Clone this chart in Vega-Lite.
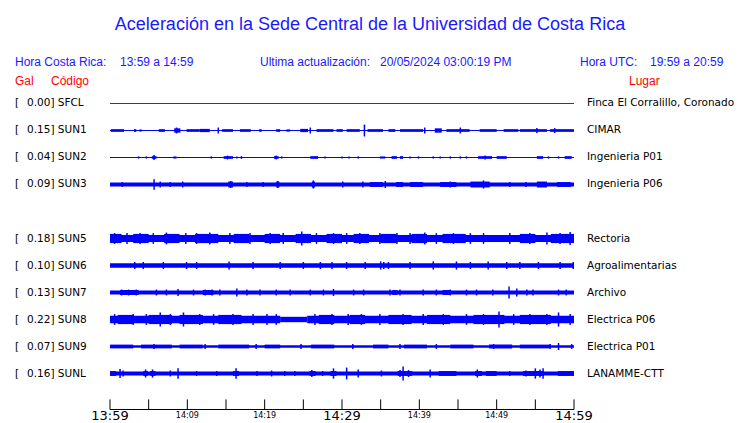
{
 "$schema": "https://vega.github.io/schema/vega-lite/v6.json",
 "width": 740, "height": 423,
 "autosize": {"type": "none"},
 "padding": 0,
 "background": "white",
 "config": {"view": {"stroke": null}, "axis": {"disable": true}},
 "datasets": {
  "bd": [
   {"s":"SUN1","t":0,"u":60,"lo":0.98,"hi":1.02},
   {"s":"SUN2","t":0,"u":60,"lo":1.98,"hi":2.02},
   {"s":"SUN3","t":0,"u":60,"lo":2.93,"hi":3.07},
   {"s":"SUN5","t":0,"u":60,"lo":4.87,"hi":5.13},
   {"s":"SUN6","t":0,"u":60,"lo":5.92,"hi":6.08},
   {"s":"SUN7","t":0,"u":60,"lo":6.93,"hi":7.07},
   {"s":"SUN8","t":0,"u":22,"lo":7.86,"hi":8.14},
   {"s":"SUN8","t":22,"u":25.5,"lo":7.9,"hi":8.1},
   {"s":"SUN8","t":25.5,"u":60,"lo":7.86,"hi":8.14},
   {"s":"SUN9","t":0,"u":60,"lo":8.95,"hi":9.05},
   {"s":"SUNL","t":0,"u":60,"lo":9.93,"hi":10.07},

   {"s":"SUN1","t":0.1,"u":1.8,"lo":0.95,"hi":1.05},
   {"s":"SUN1","t":3.1,"u":3.4,"lo":0.95,"hi":1.05},
   {"s":"SUN1","t":3.8,"u":4.1,"lo":0.96,"hi":1.04},
   {"s":"SUN1","t":6.3,"u":7.1,"lo":0.95,"hi":1.05},
   {"s":"SUN1","t":8.3,"u":9.1,"lo":0.92,"hi":1.08},
   {"s":"SUN1","t":9.9,"u":11.6,"lo":0.95,"hi":1.05},
   {"s":"SUN1","t":11.6,"u":12.9,"lo":0.94,"hi":1.06},
   {"s":"SUN1","t":14.5,"u":15.9,"lo":0.95,"hi":1.05},
   {"s":"SUN1","t":16.8,"u":18.2,"lo":0.95,"hi":1.05},
   {"s":"SUN1","t":19.3,"u":19.6,"lo":0.95,"hi":1.05},
   {"s":"SUN1","t":21.5,"u":22.0,"lo":0.95,"hi":1.05},
   {"s":"SUN1","t":22.8,"u":23.3,"lo":0.96,"hi":1.04},
   {"s":"SUN1","t":24.6,"u":25.6,"lo":0.94,"hi":1.06},
   {"s":"SUN1","t":26.7,"u":28.9,"lo":0.95,"hi":1.05},
   {"s":"SUN1","t":29.3,"u":30.1,"lo":0.95,"hi":1.05},
   {"s":"SUN1","t":30.6,"u":32.3,"lo":0.95,"hi":1.05},
   {"s":"SUN1","t":33.3,"u":35.3,"lo":0.95,"hi":1.05},
   {"s":"SUN1","t":36.0,"u":36.9,"lo":0.95,"hi":1.05},
   {"s":"SUN1","t":37.5,"u":40.5,"lo":0.95,"hi":1.05},
   {"s":"SUN1","t":42.0,"u":42.9,"lo":0.92,"hi":1.08},
   {"s":"SUN1","t":43.5,"u":46.5,"lo":0.95,"hi":1.05},
   {"s":"SUN1","t":47.8,"u":50.0,"lo":0.95,"hi":1.05},
   {"s":"SUN1","t":50.9,"u":52.8,"lo":0.95,"hi":1.05},
   {"s":"SUN1","t":53.0,"u":56.5,"lo":0.95,"hi":1.05},
   {"s":"SUN1","t":56.9,"u":60,"lo":0.95,"hi":1.05},

   {"s":"SUN2","t":3.6,"u":3.8,"lo":1.96,"hi":2.04},
   {"s":"SUN2","t":4.6,"u":4.8,"lo":1.96,"hi":2.04},
   {"s":"SUN2","t":5.4,"u":6.0,"lo":1.95,"hi":2.05},
   {"s":"SUN2","t":8.2,"u":8.6,"lo":1.96,"hi":2.04},
   {"s":"SUN2","t":13.0,"u":13.2,"lo":1.96,"hi":2.04},
   {"s":"SUN2","t":14.7,"u":15.9,"lo":1.95,"hi":2.05},
   {"s":"SUN2","t":16.3,"u":16.5,"lo":1.96,"hi":2.04},
   {"s":"SUN2","t":16.9,"u":17.1,"lo":1.95,"hi":2.05},
   {"s":"SUN2","t":21.2,"u":21.8,"lo":1.95,"hi":2.05},
   {"s":"SUN2","t":22.1,"u":22.3,"lo":1.96,"hi":2.04},
   {"s":"SUN2","t":25.9,"u":26.9,"lo":1.95,"hi":2.05},
   {"s":"SUN2","t":27.7,"u":27.9,"lo":1.96,"hi":2.04},
   {"s":"SUN2","t":29.9,"u":30.1,"lo":1.96,"hi":2.04},
   {"s":"SUN2","t":30.8,"u":31.0,"lo":1.96,"hi":2.04},
   {"s":"SUN2","t":32.0,"u":32.2,"lo":1.96,"hi":2.04},
   {"s":"SUN2","t":34.9,"u":35.6,"lo":1.96,"hi":2.04},
   {"s":"SUN2","t":36.4,"u":37.1,"lo":1.95,"hi":2.05},
   {"s":"SUN2","t":37.5,"u":37.9,"lo":1.95,"hi":2.05},
   {"s":"SUN2","t":38.7,"u":38.9,"lo":1.96,"hi":2.04},
   {"s":"SUN2","t":39.8,"u":40.0,"lo":1.96,"hi":2.04},
   {"s":"SUN2","t":41.7,"u":41.9,"lo":1.96,"hi":2.04},
   {"s":"SUN2","t":42.6,"u":42.8,"lo":1.96,"hi":2.04},
   {"s":"SUN2","t":43.9,"u":44.1,"lo":1.96,"hi":2.04},
   {"s":"SUN2","t":45.2,"u":45.4,"lo":1.96,"hi":2.04},
   {"s":"SUN2","t":46.0,"u":46.2,"lo":1.96,"hi":2.04},
   {"s":"SUN2","t":47.6,"u":49.4,"lo":1.95,"hi":2.05},
   {"s":"SUN2","t":50.0,"u":51.3,"lo":1.95,"hi":2.05},
   {"s":"SUN2","t":55.2,"u":56.0,"lo":1.95,"hi":2.05},
   {"s":"SUN2","t":56.6,"u":56.8,"lo":1.96,"hi":2.04},
   {"s":"SUN2","t":57.9,"u":58.1,"lo":1.96,"hi":2.04},
   {"s":"SUN2","t":58.8,"u":59.7,"lo":1.95,"hi":2.05},

   {"s":"SUN3","t":15.3,"u":15.9,"lo":2.89,"hi":3.11},
   {"s":"SUN3","t":21.5,"u":21.9,"lo":2.89,"hi":3.11},
   {"s":"SUN3","t":26.1,"u":26.5,"lo":2.89,"hi":3.11},
   {"s":"SUN3","t":33.6,"u":35.3,"lo":2.91,"hi":3.09},
   {"s":"SUN3","t":37.0,"u":37.9,"lo":2.91,"hi":3.09},
   {"s":"SUN3","t":38.8,"u":40.5,"lo":2.91,"hi":3.09},
   {"s":"SUN3","t":42.7,"u":44.8,"lo":2.91,"hi":3.09},
   {"s":"SUN3","t":46.6,"u":49.1,"lo":2.89,"hi":3.11},
   {"s":"SUN3","t":55.2,"u":56.5,"lo":2.89,"hi":3.11},
   {"s":"SUN3","t":57.8,"u":59.6,"lo":2.91,"hi":3.09},

   {"s":"SUN5","t":0,"u":1.5,"lo":4.83,"hi":5.17},
   {"s":"SUN5","t":3,"u":5,"lo":4.83,"hi":5.17},
   {"s":"SUN5","t":7,"u":9,"lo":4.83,"hi":5.17},
   {"s":"SUN5","t":11,"u":14,"lo":4.83,"hi":5.17},
   {"s":"SUN5","t":16,"u":18,"lo":4.83,"hi":5.17},
   {"s":"SUN5","t":20,"u":22,"lo":4.83,"hi":5.17},
   {"s":"SUN5","t":24,"u":26,"lo":4.83,"hi":5.17},
   {"s":"SUN5","t":28,"u":30,"lo":4.83,"hi":5.17},
   {"s":"SUN5","t":31.5,"u":33.5,"lo":4.83,"hi":5.17},
   {"s":"SUN5","t":35,"u":37,"lo":4.83,"hi":5.17},
   {"s":"SUN5","t":39,"u":41,"lo":4.83,"hi":5.17},
   {"s":"SUN5","t":43,"u":46,"lo":4.83,"hi":5.17},
   {"s":"SUN5","t":53,"u":55,"lo":4.83,"hi":5.17},
   {"s":"SUN5","t":57,"u":60,"lo":4.83,"hi":5.17},

   {"s":"SUN7","t":1.3,"u":3.7,"lo":6.91,"hi":7.09},
   {"s":"SUN7","t":12.0,"u":13.4,"lo":6.91,"hi":7.09},
   {"s":"SUN7","t":36.5,"u":37.2,"lo":6.91,"hi":7.09},
   {"s":"SUN7","t":43.0,"u":44.0,"lo":6.91,"hi":7.09},

   {"s":"SUN8","t":1,"u":3,"lo":7.83,"hi":8.17},
   {"s":"SUN8","t":5,"u":8,"lo":7.83,"hi":8.17},
   {"s":"SUN8","t":9,"u":12,"lo":7.83,"hi":8.17},
   {"s":"SUN8","t":14,"u":17,"lo":7.83,"hi":8.17},
   {"s":"SUN8","t":27,"u":29,"lo":7.83,"hi":8.17},
   {"s":"SUN8","t":31,"u":33,"lo":7.83,"hi":8.17},
   {"s":"SUN8","t":36,"u":39,"lo":7.83,"hi":8.17},
   {"s":"SUN8","t":41,"u":44,"lo":7.83,"hi":8.17},
   {"s":"SUN8","t":47,"u":51,"lo":7.83,"hi":8.17},
   {"s":"SUN8","t":53,"u":57,"lo":7.83,"hi":8.17},

   {"s":"SUN9","t":0,"u":3,"lo":8.93,"hi":9.07},
   {"s":"SUN9","t":4,"u":8,"lo":8.93,"hi":9.07},
   {"s":"SUN9","t":9,"u":12,"lo":8.93,"hi":9.07},
   {"s":"SUN9","t":14,"u":18,"lo":8.93,"hi":9.07},
   {"s":"SUN9","t":20,"u":22,"lo":8.93,"hi":9.07},
   {"s":"SUN9","t":26,"u":29,"lo":8.93,"hi":9.07},
   {"s":"SUN9","t":34,"u":36,"lo":8.93,"hi":9.07},
   {"s":"SUN9","t":38,"u":41,"lo":8.93,"hi":9.07},
   {"s":"SUN9","t":44,"u":47,"lo":8.93,"hi":9.07},
   {"s":"SUN9","t":49,"u":52,"lo":8.93,"hi":9.07},
   {"s":"SUN9","t":53,"u":57,"lo":8.93,"hi":9.07},

   {"s":"SUNL","t":0,"u":0.8,"lo":9.91,"hi":10.09},
   {"s":"SUNL","t":4.3,"u":4.9,"lo":9.91,"hi":10.09},
   {"s":"SUNL","t":5.2,"u":5.9,"lo":9.91,"hi":10.09},
   {"s":"SUNL","t":15.9,"u":16.7,"lo":9.91,"hi":10.09},
   {"s":"SUNL","t":25.8,"u":26.6,"lo":9.91,"hi":10.09},
   {"s":"SUNL","t":28.5,"u":29.3,"lo":9.91,"hi":10.09},
   {"s":"SUNL","t":37.2,"u":39.1,"lo":9.91,"hi":10.09},
   {"s":"SUNL","t":42.5,"u":44.8,"lo":9.91,"hi":10.09},
   {"s":"SUNL","t":47.2,"u":48.1,"lo":9.91,"hi":10.09},
   {"s":"SUNL","t":48.6,"u":50.0,"lo":9.91,"hi":10.09},
   {"s":"SUNL","t":53.4,"u":56.1,"lo":9.91,"hi":10.09},
   {"s":"SUNL","t":57.9,"u":60,"lo":9.91,"hi":10.09}
  ],
  "sp": [
   {"s":"SUN1","t":8.6,"lo":0.89,"hi":1.11},
   {"s":"SUN1","t":14.0,"lo":0.89,"hi":1.11},
   {"s":"SUN1","t":25.9,"lo":0.89,"hi":1.11},
   {"s":"SUN1","t":32.9,"lo":0.78,"hi":1.22},
   {"s":"SUN1","t":40.7,"lo":0.89,"hi":1.11},
   {"s":"SUN1","t":45.3,"lo":0.89,"hi":1.11},
   {"s":"SUN1","t":55.2,"lo":0.91,"hi":1.09},
   {"s":"SUN1","t":57.5,"lo":0.91,"hi":1.09},

   {"s":"SUN2","t":5.7,"lo":1.91,"hi":2.09},
   {"s":"SUN2","t":15.2,"lo":1.93,"hi":2.07},
   {"s":"SUN2","t":21.5,"lo":1.93,"hi":2.07},
   {"s":"SUN2","t":48.5,"lo":1.93,"hi":2.07},

   {"s":"SUN3","t":1.6,"lo":2.91,"hi":3.09},
   {"s":"SUN3","t":5.7,"lo":2.81,"hi":3.19},
   {"s":"SUN3","t":6.5,"lo":2.89,"hi":3.11},
   {"s":"SUN3","t":7.8,"lo":2.91,"hi":3.09},
   {"s":"SUN3","t":9.4,"lo":2.89,"hi":3.11},
   {"s":"SUN3","t":15.6,"lo":2.87,"hi":3.13},
   {"s":"SUN3","t":17.7,"lo":2.91,"hi":3.09},
   {"s":"SUN3","t":19.8,"lo":2.91,"hi":3.09},
   {"s":"SUN3","t":21.7,"lo":2.87,"hi":3.13},
   {"s":"SUN3","t":26.3,"lo":2.85,"hi":3.15},
   {"s":"SUN3","t":30.1,"lo":2.89,"hi":3.11},
   {"s":"SUN3","t":32.7,"lo":2.89,"hi":3.11},
   {"s":"SUN3","t":35.6,"lo":2.87,"hi":3.13},
   {"s":"SUN3","t":44.0,"lo":2.89,"hi":3.11},
   {"s":"SUN3","t":48.3,"lo":2.85,"hi":3.15},
   {"s":"SUN3","t":51.7,"lo":2.91,"hi":3.09},
   {"s":"SUN3","t":53.8,"lo":2.91,"hi":3.09},

   {"s":"SUN5","t":0.6,"lo":4.8,"hi":5.2},
   {"s":"SUN5","t":2.2,"lo":4.8,"hi":5.2},
   {"s":"SUN5","t":3.9,"lo":4.8,"hi":5.2},
   {"s":"SUN5","t":5.6,"lo":4.8,"hi":5.2},
   {"s":"SUN5","t":7.3,"lo":4.78,"hi":5.22},
   {"s":"SUN5","t":9.8,"lo":4.8,"hi":5.2},
   {"s":"SUN5","t":11.2,"lo":4.8,"hi":5.2},
   {"s":"SUN5","t":12.9,"lo":4.78,"hi":5.22},
   {"s":"SUN5","t":15.5,"lo":4.8,"hi":5.2},
   {"s":"SUN5","t":18.1,"lo":4.8,"hi":5.2},
   {"s":"SUN5","t":20.7,"lo":4.8,"hi":5.2},
   {"s":"SUN5","t":22.4,"lo":4.8,"hi":5.2},
   {"s":"SUN5","t":24.8,"lo":4.74,"hi":5.26},
   {"s":"SUN5","t":26.7,"lo":4.8,"hi":5.2},
   {"s":"SUN5","t":28.9,"lo":4.8,"hi":5.2},
   {"s":"SUN5","t":30.6,"lo":4.8,"hi":5.2},
   {"s":"SUN5","t":32.3,"lo":4.8,"hi":5.2},
   {"s":"SUN5","t":34.9,"lo":4.8,"hi":5.2},
   {"s":"SUN5","t":37.1,"lo":4.8,"hi":5.2},
   {"s":"SUN5","t":38.8,"lo":4.8,"hi":5.2},
   {"s":"SUN5","t":40.7,"lo":4.78,"hi":5.22},
   {"s":"SUN5","t":42.2,"lo":4.8,"hi":5.2},
   {"s":"SUN5","t":44.4,"lo":4.8,"hi":5.2},
   {"s":"SUN5","t":46.6,"lo":4.8,"hi":5.2},
   {"s":"SUN5","t":48.3,"lo":4.8,"hi":5.2},
   {"s":"SUN5","t":51.7,"lo":4.8,"hi":5.2},
   {"s":"SUN5","t":54.3,"lo":4.8,"hi":5.2},
   {"s":"SUN5","t":56.5,"lo":4.78,"hi":5.22},
   {"s":"SUN5","t":58.2,"lo":4.8,"hi":5.2},
   {"s":"SUN5","t":59.5,"lo":4.76,"hi":5.24},

   {"s":"SUN6","t":3.2,"lo":5.87,"hi":6.13},
   {"s":"SUN6","t":4.3,"lo":5.87,"hi":6.13},
   {"s":"SUN6","t":6.9,"lo":5.87,"hi":6.13},
   {"s":"SUN6","t":9.9,"lo":5.87,"hi":6.13},
   {"s":"SUN6","t":11.2,"lo":5.87,"hi":6.13},
   {"s":"SUN6","t":15.4,"lo":5.85,"hi":6.15},
   {"s":"SUN6","t":18.5,"lo":5.87,"hi":6.13},
   {"s":"SUN6","t":22.0,"lo":5.87,"hi":6.13},
   {"s":"SUN6","t":25.0,"lo":5.87,"hi":6.13},
   {"s":"SUN6","t":27.2,"lo":5.87,"hi":6.13},
   {"s":"SUN6","t":28.7,"lo":5.87,"hi":6.13},
   {"s":"SUN6","t":30.6,"lo":5.87,"hi":6.13},
   {"s":"SUN6","t":33.0,"lo":5.87,"hi":6.13},
   {"s":"SUN6","t":35.0,"lo":5.85,"hi":6.15},
   {"s":"SUN6","t":35.4,"lo":5.87,"hi":6.13},
   {"s":"SUN6","t":36.0,"lo":5.87,"hi":6.13},
   {"s":"SUN6","t":38.8,"lo":5.87,"hi":6.13},
   {"s":"SUN6","t":41.8,"lo":5.85,"hi":6.15},
   {"s":"SUN6","t":44.8,"lo":5.85,"hi":6.15},
   {"s":"SUN6","t":46.6,"lo":5.87,"hi":6.13},
   {"s":"SUN6","t":48.9,"lo":5.85,"hi":6.15},
   {"s":"SUN6","t":51.3,"lo":5.87,"hi":6.13},
   {"s":"SUN6","t":53.0,"lo":5.87,"hi":6.13},
   {"s":"SUN6","t":55.4,"lo":5.87,"hi":6.13},
   {"s":"SUN6","t":58.2,"lo":5.87,"hi":6.13},
   {"s":"SUN6","t":59.9,"lo":5.87,"hi":6.13},

   {"s":"SUN7","t":1.5,"lo":6.89,"hi":7.11},
   {"s":"SUN7","t":2.4,"lo":6.89,"hi":7.11},
   {"s":"SUN7","t":3.4,"lo":6.89,"hi":7.11},
   {"s":"SUN7","t":6.0,"lo":6.89,"hi":7.11},
   {"s":"SUN7","t":7.3,"lo":6.89,"hi":7.11},
   {"s":"SUN7","t":8.8,"lo":6.87,"hi":7.13},
   {"s":"SUN7","t":10.8,"lo":6.89,"hi":7.11},
   {"s":"SUN7","t":12.3,"lo":6.89,"hi":7.11},
   {"s":"SUN7","t":13.2,"lo":6.89,"hi":7.11},
   {"s":"SUN7","t":14.2,"lo":6.89,"hi":7.11},
   {"s":"SUN7","t":16.4,"lo":6.85,"hi":7.15},
   {"s":"SUN7","t":17.7,"lo":6.89,"hi":7.11},
   {"s":"SUN7","t":19.4,"lo":6.89,"hi":7.11},
   {"s":"SUN7","t":21.5,"lo":6.89,"hi":7.11},
   {"s":"SUN7","t":23.3,"lo":6.89,"hi":7.11},
   {"s":"SUN7","t":25.9,"lo":6.89,"hi":7.11},
   {"s":"SUN7","t":27.6,"lo":6.89,"hi":7.11},
   {"s":"SUN7","t":28.9,"lo":6.87,"hi":7.13},
   {"s":"SUN7","t":31.5,"lo":6.89,"hi":7.11},
   {"s":"SUN7","t":32.8,"lo":6.89,"hi":7.11},
   {"s":"SUN7","t":36.2,"lo":6.89,"hi":7.11},
   {"s":"SUN7","t":37.5,"lo":6.89,"hi":7.11},
   {"s":"SUN7","t":40.5,"lo":6.89,"hi":7.11},
   {"s":"SUN7","t":42.2,"lo":6.89,"hi":7.11},
   {"s":"SUN7","t":44.0,"lo":6.89,"hi":7.11},
   {"s":"SUN7","t":46.1,"lo":6.89,"hi":7.11},
   {"s":"SUN7","t":47.4,"lo":6.89,"hi":7.11},
   {"s":"SUN7","t":49.5,"lo":6.89,"hi":7.11},
   {"s":"SUN7","t":51.6,"lo":6.78,"hi":7.22},
   {"s":"SUN7","t":52.6,"lo":6.85,"hi":7.15},
   {"s":"SUN7","t":53.9,"lo":6.89,"hi":7.11},
   {"s":"SUN7","t":54.7,"lo":6.89,"hi":7.11},
   {"s":"SUN7","t":58.0,"lo":6.89,"hi":7.11},
   {"s":"SUN7","t":59.0,"lo":6.89,"hi":7.11},

   {"s":"SUN8","t":0.6,"lo":7.8,"hi":8.2},
   {"s":"SUN8","t":3.0,"lo":7.8,"hi":8.2},
   {"s":"SUN8","t":4.7,"lo":7.8,"hi":8.2},
   {"s":"SUN8","t":6.5,"lo":7.74,"hi":8.26},
   {"s":"SUN8","t":7.8,"lo":7.8,"hi":8.2},
   {"s":"SUN8","t":9.5,"lo":7.74,"hi":8.26},
   {"s":"SUN8","t":11.6,"lo":7.8,"hi":8.2},
   {"s":"SUN8","t":13.4,"lo":7.8,"hi":8.2},
   {"s":"SUN8","t":15.9,"lo":7.8,"hi":8.2},
   {"s":"SUN8","t":18.5,"lo":7.8,"hi":8.2},
   {"s":"SUN8","t":20.3,"lo":7.8,"hi":8.2},
   {"s":"SUN8","t":21.5,"lo":7.8,"hi":8.2},
   {"s":"SUN8","t":26.5,"lo":7.8,"hi":8.2},
   {"s":"SUN8","t":28.7,"lo":7.8,"hi":8.2},
   {"s":"SUN8","t":30.8,"lo":7.8,"hi":8.2},
   {"s":"SUN8","t":32.5,"lo":7.8,"hi":8.2},
   {"s":"SUN8","t":34.9,"lo":7.8,"hi":8.2},
   {"s":"SUN8","t":37.9,"lo":7.8,"hi":8.2},
   {"s":"SUN8","t":40.5,"lo":7.8,"hi":8.2},
   {"s":"SUN8","t":43.1,"lo":7.8,"hi":8.2},
   {"s":"SUN8","t":46.1,"lo":7.8,"hi":8.2},
   {"s":"SUN8","t":48.3,"lo":7.8,"hi":8.2},
   {"s":"SUN8","t":50.3,"lo":7.7,"hi":8.3},
   {"s":"SUN8","t":52.2,"lo":7.8,"hi":8.2},
   {"s":"SUN8","t":54.3,"lo":7.8,"hi":8.2},
   {"s":"SUN8","t":56.5,"lo":7.8,"hi":8.2},
   {"s":"SUN8","t":58.0,"lo":7.74,"hi":8.26},
   {"s":"SUN8","t":59.5,"lo":7.8,"hi":8.2},

   {"s":"SUN9","t":5.7,"lo":8.91,"hi":9.09},
   {"s":"SUN9","t":12.3,"lo":8.91,"hi":9.09},
   {"s":"SUN9","t":18.9,"lo":8.91,"hi":9.09},
   {"s":"SUN9","t":24.7,"lo":8.91,"hi":9.09},
   {"s":"SUN9","t":31.4,"lo":8.91,"hi":9.09},
   {"s":"SUN9","t":37.5,"lo":8.91,"hi":9.09},
   {"s":"SUN9","t":42.2,"lo":8.91,"hi":9.09},
   {"s":"SUN9","t":49.6,"lo":8.91,"hi":9.09},
   {"s":"SUN9","t":56.9,"lo":8.91,"hi":9.09},
   {"s":"SUN9","t":58.0,"lo":8.87,"hi":9.13},
   {"s":"SUN9","t":59.7,"lo":8.91,"hi":9.09},

   {"s":"SUNL","t":1.3,"lo":9.83,"hi":10.17},
   {"s":"SUNL","t":1.7,"lo":9.89,"hi":10.11},
   {"s":"SUNL","t":4.6,"lo":9.85,"hi":10.15},
   {"s":"SUNL","t":5.5,"lo":9.85,"hi":10.15},
   {"s":"SUNL","t":7.8,"lo":9.89,"hi":10.11},
   {"s":"SUNL","t":8.8,"lo":9.81,"hi":10.19},
   {"s":"SUNL","t":11.2,"lo":9.91,"hi":10.09},
   {"s":"SUNL","t":13.8,"lo":9.91,"hi":10.09},
   {"s":"SUNL","t":16.3,"lo":9.81,"hi":10.19},
   {"s":"SUNL","t":19.0,"lo":9.91,"hi":10.09},
   {"s":"SUNL","t":20.9,"lo":9.89,"hi":10.11},
   {"s":"SUNL","t":22.6,"lo":9.91,"hi":10.09},
   {"s":"SUNL","t":23.9,"lo":9.91,"hi":10.09},
   {"s":"SUNL","t":26.1,"lo":9.87,"hi":10.13},
   {"s":"SUNL","t":27.5,"lo":9.91,"hi":10.09},
   {"s":"SUNL","t":28.9,"lo":9.81,"hi":10.19},
   {"s":"SUNL","t":30.6,"lo":9.78,"hi":10.22},
   {"s":"SUNL","t":32.1,"lo":9.85,"hi":10.15},
   {"s":"SUNL","t":35.1,"lo":9.89,"hi":10.11},
   {"s":"SUNL","t":37.5,"lo":9.87,"hi":10.13},
   {"s":"SUNL","t":37.9,"lo":9.74,"hi":10.26},
   {"s":"SUNL","t":38.6,"lo":9.87,"hi":10.13},
   {"s":"SUNL","t":41.4,"lo":9.85,"hi":10.15},
   {"s":"SUNL","t":47.5,"lo":9.85,"hi":10.15},
   {"s":"SUNL","t":51.7,"lo":9.91,"hi":10.09},
   {"s":"SUNL","t":53.8,"lo":9.89,"hi":10.11},
   {"s":"SUNL","t":55.0,"lo":9.81,"hi":10.19},
   {"s":"SUNL","t":55.6,"lo":9.85,"hi":10.15},
   {"s":"SUNL","t":56.0,"lo":9.81,"hi":10.19}
  ],
  "flat": [{"s":"SFCL","t":0,"u":60,"v":0}],
  "st": [
   {"r":0,"lab":"0.00] SFCL","n":"Finca El Corralillo, Coronado"},
   {"r":1,"lab":"0.15] SUN1","n":"CIMAR"},
   {"r":2,"lab":"0.04] SUN2","n":"Ingenieria P01"},
   {"r":3,"lab":"0.09] SUN3","n":"Ingenieria P06"},
   {"r":5,"lab":"0.18] SUN5","n":"Rectoria"},
   {"r":6,"lab":"0.10] SUN6","n":"Agroalimentarias"},
   {"r":7,"lab":"0.13] SUN7","n":"Archivo"},
   {"r":8,"lab":"0.22] SUN8","n":"Electrica P06"},
   {"r":9,"lab":"0.07] SUN9","n":"Electrica P01"},
   {"r":10,"lab":"0.16] SUNL","n":"LANAMME-CTT"}
  ],
  "ticks": [
   {"t":0,"s":"13:59","big":true},{"t":5,"s":"","big":false},{"t":10,"s":"14:09","big":false},
   {"t":15,"s":"","big":false},{"t":20,"s":"14:19","big":false},{"t":25,"s":"","big":false},
   {"t":30,"s":"14:29","big":true},{"t":35,"s":"","big":false},{"t":40,"s":"14:39","big":false},
   {"t":45,"s":"","big":false},{"t":50,"s":"14:49","big":false},{"t":55,"s":"","big":false},
   {"t":60,"s":"14:59","big":true}
  ]
 },
 "layer": [
  {"data":{"name":"bd"},"mark":{"type":"rect","color":"#0000ff"},
   "encoding":{
    "x":{"field":"t","type":"quantitative","scale":{"domain":[-14.2241,81.4655],"nice":false,"zero":false},"axis":null},
    "x2":{"field":"u"},
    "y":{"field":"lo","type":"quantitative","scale":{"domain":[-3.8333,11.8333],"reverse":true,"nice":false,"zero":false},"axis":null},
    "y2":{"field":"hi"}}},
  {"data":{"name":"sp"},"mark":{"type":"rule","color":"#0000ff","strokeWidth":1.5},
   "encoding":{"x":{"field":"t","type":"quantitative"},"y":{"field":"lo","type":"quantitative"},"y2":{"field":"hi"}}},
  {"data":{"name":"flat"},"mark":{"type":"rule","color":"#cc0000","strokeWidth":1},
   "encoding":{"x":{"field":"t","type":"quantitative"},"x2":{"field":"u"},"y":{"field":"v","type":"quantitative"}}},
  {"data":{"values":[{"t":0,"u":60}]},"mark":{"type":"rule","color":"#000000","strokeWidth":1},
   "encoding":{"x":{"field":"t","type":"quantitative"},"x2":{"field":"u"},"y":{"datum":11.3333,"type":"quantitative"}}},
  {"data":{"name":"ticks"},"mark":{"type":"rule","color":"#000000","strokeWidth":1},
   "encoding":{"x":{"field":"t","type":"quantitative"},"y":{"datum":10.96,"type":"quantitative"},"y2":{"datum":11.3333}}},
  {"data":{"name":"ticks"},"transform":[{"filter":"datum.big"}],
   "mark":{"type":"text","font":"DejaVu Sans","fontSize":13,"color":"#000000","align":"center","baseline":"alphabetic"},
   "encoding":{"x":{"field":"t","type":"quantitative"},"y":{"datum":11.73,"type":"quantitative"},"text":{"field":"s"}}},
  {"data":{"name":"ticks"},"transform":[{"filter":"!datum.big && datum.s != ''"}],
   "mark":{"type":"text","font":"DejaVu Sans","fontSize":8,"color":"#000000","align":"center","baseline":"alphabetic"},
   "encoding":{"x":{"field":"t","type":"quantitative"},"y":{"datum":11.66,"type":"quantitative"},"text":{"field":"s"}}},
  {"data":{"name":"st"},"mark":{"type":"text","font":"DejaVu Sans","fontSize":10.5,"color":"#000000","align":"left","baseline":"middle"},
   "encoding":{"x":{"datum":-12.284,"type":"quantitative"},"y":{"field":"r","type":"quantitative"},"text":{"value":"["}}},
  {"data":{"name":"st"},"mark":{"type":"text","font":"DejaVu Sans","fontSize":10.5,"color":"#000000","align":"left","baseline":"middle"},
   "encoding":{"x":{"datum":-10.733,"type":"quantitative"},"y":{"field":"r","type":"quantitative"},"text":{"field":"lab"}}},
  {"data":{"name":"st"},"mark":{"type":"text","font":"DejaVu Sans","fontSize":10.5,"color":"#000000","align":"left","baseline":"middle"},
   "encoding":{"x":{"datum":61.68,"type":"quantitative"},"y":{"field":"r","type":"quantitative"},"text":{"field":"n"}}},
  {"data":{"values":[{"s":"Aceleración en la Sede Central de la Universidad de Costa Rica"}]},
   "mark":{"type":"text","font":"Liberation Sans","fontSize":18,"color":"#1a1aff","align":"center","baseline":"alphabetic"},
   "encoding":{"x":{"datum":33.62,"type":"quantitative"},"y":{"datum":-2.74,"type":"quantitative"},"text":{"field":"s"}}},
  {"data":{"values":[{"s":"Hora Costa Rica:"}]},
   "mark":{"type":"text","font":"Liberation Sans","fontSize":12,"color":"#1a1aff","align":"left","baseline":"alphabetic"},
   "encoding":{"x":{"datum":-12.284,"type":"quantitative"},"y":{"datum":-1.407,"type":"quantitative"},"text":{"field":"s"}}},
  {"data":{"values":[{"s":"13:59 a 14:59"}]},
   "mark":{"type":"text","font":"Liberation Sans","fontSize":12,"color":"#1a1aff","align":"left","baseline":"alphabetic"},
   "encoding":{"x":{"datum":1.293,"type":"quantitative"},"y":{"datum":-1.407,"type":"quantitative"},"text":{"field":"s"}}},
  {"data":{"values":[{"s":"Ultima actualización:"}]},
   "mark":{"type":"text","font":"Liberation Sans","fontSize":12,"color":"#1a1aff","align":"left","baseline":"alphabetic"},
   "encoding":{"x":{"datum":19.397,"type":"quantitative"},"y":{"datum":-1.407,"type":"quantitative"},"text":{"field":"s"}}},
  {"data":{"values":[{"s":"20/05/2024 03:00:19 PM"}]},
   "mark":{"type":"text","font":"Liberation Sans","fontSize":12,"color":"#1a1aff","align":"left","baseline":"alphabetic"},
   "encoding":{"x":{"datum":34.914,"type":"quantitative"},"y":{"datum":-1.407,"type":"quantitative"},"text":{"field":"s"}}},
  {"data":{"values":[{"s":"Hora UTC:"}]},
   "mark":{"type":"text","font":"Liberation Sans","fontSize":12,"color":"#1a1aff","align":"left","baseline":"alphabetic"},
   "encoding":{"x":{"datum":60.776,"type":"quantitative"},"y":{"datum":-1.407,"type":"quantitative"},"text":{"field":"s"}}},
  {"data":{"values":[{"s":"19:59 a 20:59"}]},
   "mark":{"type":"text","font":"Liberation Sans","fontSize":12,"color":"#1a1aff","align":"left","baseline":"alphabetic"},
   "encoding":{"x":{"datum":69.828,"type":"quantitative"},"y":{"datum":-1.407,"type":"quantitative"},"text":{"field":"s"}}},
  {"data":{"values":[{"s":"Gal"}]},
   "mark":{"type":"text","font":"Liberation Sans","fontSize":12,"color":"#ff0000","align":"left","baseline":"alphabetic"},
   "encoding":{"x":{"datum":-12.284,"type":"quantitative"},"y":{"datum":-0.667,"type":"quantitative"},"text":{"field":"s"}}},
  {"data":{"values":[{"s":"Código"}]},
   "mark":{"type":"text","font":"Liberation Sans","fontSize":12,"color":"#ff0000","align":"left","baseline":"alphabetic"},
   "encoding":{"x":{"datum":-7.629,"type":"quantitative"},"y":{"datum":-0.667,"type":"quantitative"},"text":{"field":"s"}}},
  {"data":{"values":[{"s":"Lugar"}]},
   "mark":{"type":"text","font":"Liberation Sans","fontSize":12,"color":"#ff0000","align":"left","baseline":"alphabetic"},
   "encoding":{"x":{"datum":67.112,"type":"quantitative"},"y":{"datum":-0.667,"type":"quantitative"},"text":{"field":"s"}}}
 ]
}
